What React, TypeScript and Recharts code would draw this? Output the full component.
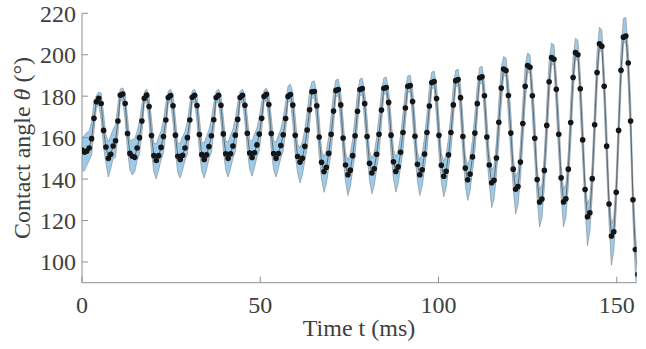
import { Area, ComposedChart, Label, Line, XAxis, YAxis } from "recharts"

// camera frame interval (ms)
const FRAME_MS = 0.672

// mean contact angle per frame (deg)
const theta = [
  154, 153, 153.5, 155, 159.5, 169.3, 177.3, 179, 176.5, 163.5,
  155.5, 150, 152, 156, 158.5, 168, 180.5, 181, 176.5, 162,
  152.4, 151, 150.5, 155, 160, 168, 179, 180.5, 175, 161,
  151.3, 149, 151.3, 155.3, 160.5, 168.5, 179.4, 180.3, 175.4, 161.2,
  151, 149.5, 151.5, 155, 160, 168.5, 179.5, 180.4, 175.5, 161.5,
  151.8, 149.5, 151.7, 155.7, 160.9, 168.6, 179.4, 180.4, 175.6, 161.8,
  152.2, 150, 152.2, 156, 161.2, 168.8, 179.4, 180.4, 175.6, 162.1,
  152.6, 150.4, 152.7, 156.5, 161.7, 169.3, 179.9, 180.9, 176, 162,
  152.3, 150, 152.3, 156.2, 161.4, 169.2, 179.9, 180.8, 175.7, 161.1,
  150.9, 148.2, 150, 155.8, 163.7, 173.4, 182.1, 182.3, 175.4, 160.3,
  148.1, 143.6, 145.7, 152.4, 161.6, 172.8, 182.8, 183.2, 175.8, 159.8,
  146.8, 142.1, 144.3, 151.3, 160.9, 172.7, 183.2, 183.7, 176.4, 160.5,
  147.6, 142.9, 145, 152, 161.6, 173.3, 183.8, 184.2, 177, 161.2,
  148.4, 143.7, 145.9, 152.9, 162.5, 174.3, 184.8, 185.1, 177.4, 160.7,
  147.1, 142.1, 144.5, 152.1, 162.5, 175.3, 186.6, 187.1, 178.9, 161.1,
  146.7, 141.4, 143.8, 151.7, 162.5, 175.8, 187.5, 188, 179.3, 160.5,
  145.3, 139.7, 142.4, 150.7, 162.2, 176.4, 188.9, 189.4, 180.2, 160.3,
  146.8, 138.2, 139.4, 150.2, 167.4, 183.9, 193.1, 192.4, 180.3, 162.2,
  144.8, 135.1, 136.4, 148.2, 166.8, 184.8, 194.8, 194, 180.2, 159.7,
  139.8, 128.9, 130.4, 144.2, 165.9, 187, 198.6, 197.8, 183.3, 161.6,
  140.6, 129, 130.5, 144.8, 167.3, 189, 201, 200, 183.6, 158.9,
  135, 121.8, 123.7, 140.2, 166.2, 191.4, 205.3, 204.1, 184.8, 155.9,
  128, 112.5, 114.6, 133.6, 163.5, 192.5, 208.5, 209, 196, 168,
  130, 106, 94,
]

// upper / lower half-width of the shaded band (deg)
const spreadUp = [
  6, 8, 9, 8, 8, 8, 3, 3, 5, 8,
  6, 8, 9, 8, 8, 8, 3, 3, 5, 8,
  6, 8, 9, 8, 8, 8, 3, 3, 5, 8,
  6, 8, 9, 8, 8, 8, 3, 3, 5, 8,
  6, 8, 9, 8, 8, 8, 3, 3, 5, 8,
  6, 8, 9, 8, 8, 8, 3, 3, 5, 8,
  6, 8, 9, 8, 8, 8, 3, 3, 5, 8,
  6, 8, 9, 8, 8, 8, 3, 3, 5, 8,
  6, 8, 9, 8, 8, 8, 5, 5, 6, 9,
  6, 7, 8, 8, 9, 9, 5, 5, 6, 9,
  6, 7, 8, 8, 9, 9, 5, 5, 6, 9,
  6, 7, 8, 8, 9, 9, 5, 5, 6, 9,
  6, 7, 8, 8, 9, 9, 5, 5, 6, 9,
  6, 7, 8, 8, 9, 9, 5, 5, 6, 9,
  6, 7, 8, 8, 9, 9, 5, 5, 6, 9,
  6, 7, 8, 8, 9, 9, 5, 5, 6, 9,
  6, 7, 8, 8, 9, 9, 5, 5, 6, 9,
  6, 6, 7, 8, 10, 10, 6, 6, 7, 10,
  6, 6, 7, 8, 10, 10, 6, 6, 7, 10,
  6, 6, 7, 8, 10, 10, 7, 7, 7, 10,
  6, 6, 7, 8, 10, 10, 7, 7, 7, 10,
  6, 6, 7, 8, 10, 10, 8, 8, 7, 10,
  6, 6, 7, 8, 10, 10, 9, 9, 7, 10,
  8, 8, 8,
]

const spreadDown = [
  10, 9, 7, 6, 8, 6, 3, 3, 8, 8,
  8, 9, 7, 6, 8, 6, 3, 3, 8, 8,
  8, 9, 7, 6, 8, 6, 3, 3, 8, 8,
  8, 9, 7, 6, 8, 6, 3, 3, 8, 8,
  8, 9, 7, 6, 8, 6, 3, 3, 8, 8,
  8, 9, 7, 6, 8, 6, 3, 3, 8, 8,
  8, 9, 7, 6, 8, 6, 3, 3, 8, 8,
  8, 9, 7, 6, 8, 6, 3, 3, 8, 8,
  8, 9, 7, 6, 8, 6, 3, 3, 9, 9,
  8, 10, 8, 7, 9, 7, 3, 3, 9, 9,
  8, 10, 8, 7, 9, 7, 3, 3, 9, 9,
  8, 10, 8, 7, 9, 7, 3, 3, 9, 9,
  8, 10, 8, 7, 9, 7, 3, 3, 9, 9,
  8, 10, 8, 7, 9, 7, 3, 3, 9, 9,
  8, 10, 8, 7, 9, 7, 3, 3, 9, 9,
  8, 10, 8, 7, 9, 7, 3, 3, 9, 9,
  8, 10, 8, 7, 9, 7, 3, 3, 9, 9,
  9, 12, 9, 8, 10, 8, 3, 3, 10, 10,
  9, 12, 9, 8, 10, 8, 3, 3, 10, 10,
  9, 12, 9, 8, 10, 8, 3, 3, 10, 10,
  9, 12, 9, 8, 10, 8, 3, 3, 10, 10,
  9, 14, 9, 8, 10, 8, 3, 3, 10, 10,
  9, 14, 9, 8, 10, 8, 3, 3, 10, 10,
  10, 12, 12,
]

const timeTicks = [0, 50, 100, 150]
const angleTicks = [100, 120, 140, 160, 180, 200, 220]
const timeDomain = [0, 155.6]
const angleDomain = [90, 220]

const FONT = "Liberation Serif"
const TEXT = "#404040"
const FRAME = "#8f8f8f"
const FONT_SIZE = 24

const chartData = theta.map((v, i) => ({
  t: Number((i * FRAME_MS).toFixed(3)),
  theta: v,
  band: [v - spreadDown[i], v + spreadUp[i]],
}))

const textStyle = { fontFamily: FONT, fontSize: FONT_SIZE }

function BottomTick(props: any) {
  const { x, y, payload } = props
  return (
    <text x={x} y={y} dy="0.71em" textAnchor="middle" fill={TEXT} style={textStyle}>
      {payload.value}
    </text>
  )
}

function LeftTick(props: any) {
  const { x, y, payload } = props
  return (
    <text x={x} y={y} dy="0.355em" textAnchor="end" fill={TEXT} style={textStyle}>
      {payload.value}
    </text>
  )
}

export default function App() {
  return (
    <div style={{ position: "absolute", left: 0, top: 0, fontFamily: FONT }}>
      <ComposedChart
        width={646}
        height={349}
        data={chartData}
        margin={{ top: 13.3, right: 9.3, bottom: 16.3, left: 0 }}
      >
        <XAxis
          dataKey="t"
          type="number"
          domain={timeDomain}
          allowDataOverflow
          ticks={timeTicks}
          height={50}
          tickSize={-6}
          tickMargin={19}
          tick={<BottomTick />}
          stroke={FRAME}
        >
          <Label
            content={() => (
              <text x={359} y={336} textAnchor="middle" fill={TEXT} style={textStyle}>
                Time t (ms)
              </text>
            )}
          />
        </XAxis>
        <XAxis
          xAxisId="top"
          orientation="top"
          type="number"
          domain={timeDomain}
          allowDataOverflow
          ticks={timeTicks}
          height={0}
          tickSize={-6}
          tick={false}
          stroke={FRAME}
        />
        <YAxis
          type="number"
          domain={angleDomain}
          allowDataOverflow
          ticks={angleTicks}
          width={82}
          tickSize={-6}
          tickMargin={12}
          tick={<LeftTick />}
          stroke={FRAME}
        >
          <Label
            content={() => (
              <text
                x={30}
                y={148}
                transform="rotate(-90, 30, 148)"
                textAnchor="middle"
                fill={TEXT}
                style={textStyle}
              >
                Contact angle <tspan fontStyle="italic">θ</tspan> (°)
              </text>
            )}
          />
        </YAxis>
        <YAxis
          yAxisId="right"
          orientation="right"
          type="number"
          domain={angleDomain}
          allowDataOverflow
          ticks={angleTicks}
          width={0}
          tickSize={-6}
          tick={false}
          stroke={FRAME}
        />
        <Area
          dataKey="band"
          type="linear"
          fill="#9ccbea"
          fillOpacity={1}
          stroke="#8a949c"
          strokeWidth={0.7}
          isAnimationActive={false}
          activeDot={false}
        />
        <Line
          dataKey="theta"
          type="linear"
          stroke="#505050"
          strokeWidth={0.8}
          dot={{ r: 2.8, fill: "#151515", stroke: "none" }}
          activeDot={false}
          isAnimationActive={false}
        />
      </ComposedChart>
    </div>
  )
}
